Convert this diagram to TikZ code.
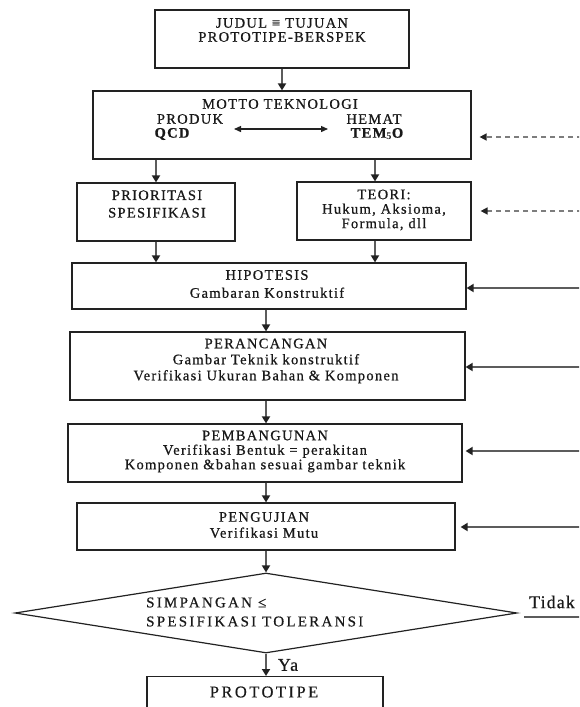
\documentclass[tikz,border=0pt]{standalone}
\usepackage{fontspec}
\setmainfont{Liberation Serif}
\newfontfamily\spaced[LetterSpace=9,FakeBold=0.6]{Liberation Serif}
\newfontfamily\spacedw[LetterSpace=15,FakeBold=0.4]{Liberation Serif}
\newfontfamily\spacedn[LetterSpace=6,FakeBold=0.4]{Liberation Serif}
\usetikzlibrary{arrows.meta,shapes.geometric,calc}
\definecolor{conncol}{HTML}{5C5C5C}
\definecolor{boxcol}{HTML}{222222}
\tikzset{
  box/.style={draw=boxcol, line width=1.2pt, rectangle, inner sep=0pt},
  txt/.style={font=\spaced\fontsize{14.5}{15}\selectfont, align=center, inner sep=0pt, text=black!90},
  conn/.style={draw=conncol, line width=1.9pt, -{Triangle[length=7pt,width=8pt,color=boxcol]}},
  dconn/.style={draw=conncol!80, line width=1.5pt, dash pattern=on 5pt off 4pt, -{Triangle[length=7pt,width=7pt,color=boxcol]}},
  dbl/.style={draw=boxcol, line width=1.3pt, {Triangle[length=7pt,width=6pt]}-{Triangle[length=7pt,width=6pt]}}
}
\begin{document}
\begin{tikzpicture}[x=1pt,y=-1pt]
\clip (0,0) rectangle (579,707);
\fill[white] (0,0) rectangle (579,707);
\coordinate (axis) at (266,0);

% boxes
\node[box, minimum width=254pt, minimum height=58pt] (judul) at (282,39) {};
\node[box, minimum width=378pt, minimum height=68pt] (motto) at (282,125) {};
\node[box, minimum width=158pt, minimum height=58pt] (prior) at (156,212) {};
\node[box, minimum width=174pt, minimum height=58pt] (teori) at (384,211) {};
\node[box, minimum width=394pt, minimum height=46pt] (hipo) at (269,286) {};
\node[box, minimum width=395pt, minimum height=68pt] (peran) at (267.5,366) {};
\node[box, minimum width=394pt, minimum height=58pt] (pemb) at (265,453) {};
\node[box, minimum width=378pt, minimum height=47pt] (peng) at (266,526.5) {};
\node[draw=boxcol, line width=1.2pt, diamond, inner sep=0pt, minimum width=502pt, minimum height=80pt] (dia) at (266,613) {};
\node[box, minimum width=236pt, minimum height=60pt, anchor=north] (proto) at (265,676) {};

% texts
\node[txt, font=\spaced\fontsize{14.5}{14}\selectfont] (tjudul) at (282,30) {JUDUL ≡ TUJUAN\\PROTOTIPE-BERSPEK};
\node[txt] (tmotto) at (280,104) {MOTTO TEKNOLOGI};
\node[txt] (tprod) at (190,119) {PRODUK};
\node[txt, font=\spaced\bfseries\fontsize{14.5}{15}\selectfont] (tqcd) at (172,134) {QCD};
\node[txt] (themat) at (374,119) {HEMAT};
\node[txt, font=\spaced\bfseries\fontsize{14.5}{15}\selectfont] (ttem) at (377,134) {TEM$_{\mathbf 5}$O};
\node[txt, font=\spaced\fontsize{14.5}{17.5}\selectfont] (tprior) at (157,204) {PRIORITASI\\SPESIFIKASI};
\node[txt, font=\spaced\fontsize{14.5}{14.5}\selectfont] (tteori) at (384,210) {TEORI:\\Hukum, Aksioma,\\Formula, dll};
\node[txt, font=\spaced\fontsize{14.5}{18}\selectfont] (thipo) at (267,284) {HIPOTESIS\\Gambaran Konstruktif};
\node[txt, font=\spaced\fontsize{14.5}{16}\selectfont] (tperan) at (266,361) {PERANCANGAN\\Gambar Teknik konstruktif\\Verifikasi Ukuran Bahan \& Komponen};
\node[txt, font=\spaced\fontsize{14.5}{14.5}\selectfont] (tpemb) at (265,451.5) {PEMBANGUNAN\\Verifikasi Bentuk = perakitan\\Komponen \&bahan sesuai gambar teknik};
\node[txt, font=\spaced\fontsize{14.5}{16}\selectfont] (tpeng) at (264,525) {PENGUJIAN\\Verifikasi Mutu};
\node[txt, font=\spacedw\fontsize{15}{19}\selectfont, align=left, anchor=west] (tdia) at (146,612) {SIMPANGAN ≤\\SPESIFIKASI TOLERANSI};
\node[txt, font=\spacedw\fontsize{16.5}{17}\selectfont] (tproto) at (264,692) {PROTOTIPE};
\node[txt, font=\spacedn\fontsize{18}{18}\selectfont] (ttidak) at (552,602) {Tidak};
\node[txt, font=\spacedn\fontsize{18}{18}\selectfont] (tya) at (288,665) {Ya};

% double arrow in motto
\coordinate (da1) at (234,129);
\coordinate (da2) at (328,129);
\draw[dbl] (da1) -- (da2);

% main connectors
\draw[conn] (judul.south) -- (motto.north);
\draw[conn] (motto.south -| prior.north) -- (prior.north);
\draw[conn] ($(motto.south -| teori.north)+(-9,0)$) -- ($(teori.north)+(-9,0)$);
\draw[conn] (prior.south) -- (hipo.north -| prior.south);
\draw[conn] ($(teori.south)+(-9,0)$) -- ($(hipo.north -| teori.south)+(-9,0)$);
\draw[conn] (hipo.south -| axis) -- (peran.north -| axis);
\draw[conn] (peran.south -| axis) -- (pemb.north -| axis);
\draw[conn] (pemb.south -| axis) -- (peng.north -| axis);
\draw[conn] (peng.south -| axis) -- (dia.north);
\draw[conn] (dia.south) -- (proto.north -| dia.south);

% feedback from right
\coordinate (r1) at (582,137);
\coordinate (r2) at (582,211);
\coordinate (r3) at (582,288);
\coordinate (r4) at (582,367);
\coordinate (r5) at (582,451);
\coordinate (r6) at (582,527);
\coordinate (r7) at (582,617);
\coordinate (t0) at (524,617);
\draw[dconn] (r1) -- ($(motto.east |- r1)+(8,0)$);
\draw[dconn] (r2) -- ($(teori.east |- r2)+(9,0)$);
\draw[conn] (r3) -- (hipo.east |- r3);
\draw[conn] (r4) -- (peran.east |- r4);
\draw[conn] (r5) -- ($(pemb.east |- r5)+(3,0)$);
\draw[conn] (r6) -- ($(peng.east |- r6)+(5,0)$);
\draw[draw=conncol, line width=1.8pt] (t0) -- (r7);
\end{tikzpicture}
\end{document}
